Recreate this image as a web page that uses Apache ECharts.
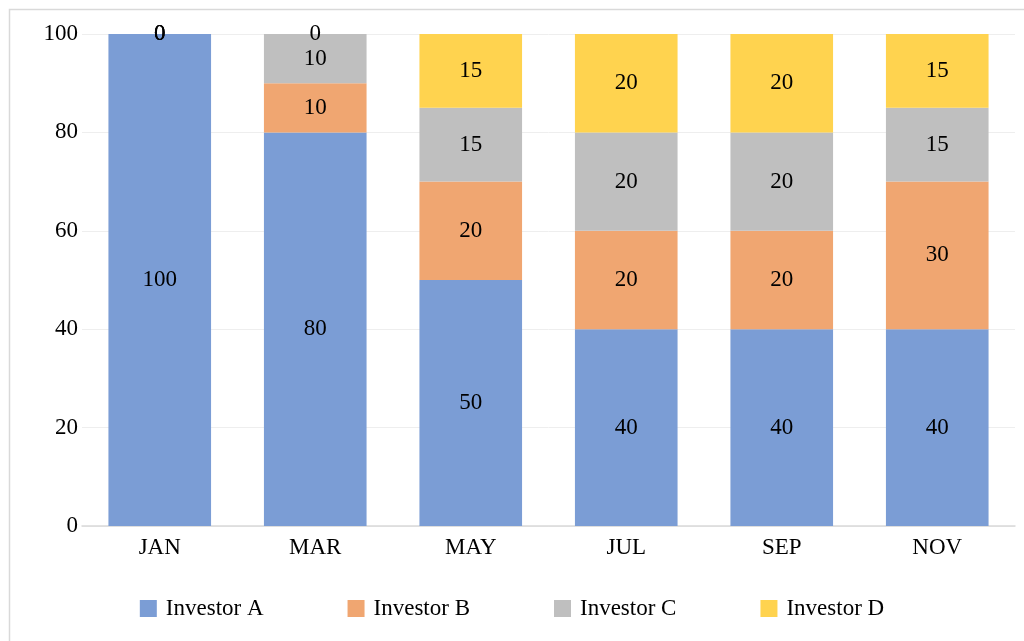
<!DOCTYPE html>
<html><head><meta charset="utf-8">
<script src="https://cdn.jsdelivr.net/npm/echarts@6/dist/echarts.min.js"></script>
<style>html,body{margin:0;padding:0;background:#fff}#c{width:1024px;height:641px}</style>
</head><body><div id="c"></div>
<script>
const categories = ['JAN','MAR','MAY','JUL','SEP','NOV'];
const investorA = [100, 80, 50, 40, 40, 40];
const investorB = [0, 10, 20, 20, 20, 30];
const investorC = [0, 10, 15, 20, 20, 15];
const investorD = [0, 0, 15, 20, 20, 15];
const seriesNames = ['Investor A','Investor B','Investor C','Investor D'];
const colors = ['#7b9dd5','#f0a671','#bfbfbf','#ffd34f'];
const font = '"Liberation Serif","Times New Roman",serif';

const chart = echarts.init(document.getElementById('c'), null, {renderer:'canvas'});
const mk = (name, data, color) => ({
  name, type:'bar', stack:'total', data, barWidth:'66%',
  itemStyle:{color},
  label:{show:true, position:'inside', color:'#000', fontFamily:font, fontSize:23},
  emphasis:{disabled:true}
});
chart.setOption({
  animation:false,
  textStyle:{fontFamily:font},
  graphic:[{type:'rect', left:7, top:7, shape:{width:1040, height:660}, style:{fill:'none', stroke:'#d9d9d9', lineWidth:1.5}, silent:true}],
  grid:{left:82, right:9, top:34, bottom:115},
  legend:{bottom:16, left:'center', itemWidth:17, itemHeight:17, itemGap:84, icon:'rect',
    textStyle:{fontFamily:font, fontSize:23, color:'#000', padding:[0,0,0,4]}, data:seriesNames},
  xAxis:{type:'category', data:categories,
    axisLine:{lineStyle:{color:'#d9d9d9', width:1.5}}, axisTick:{show:false},
    axisLabel:{fontFamily:font, fontSize:23, color:'#000', margin:10}},
  yAxis:{type:'value', min:0, max:100, interval:20,
    axisLine:{show:false}, axisTick:{show:false},
    splitLine:{lineStyle:{color:'#eeeeee', width:1}},
    axisLabel:{fontFamily:font, fontSize:23, color:'#000', margin:4}},
  series:[mk(seriesNames[0], investorA, colors[0]), mk(seriesNames[1], investorB, colors[1]),
          mk(seriesNames[2], investorC, colors[2]), mk(seriesNames[3], investorD, colors[3])]
});
</script></body></html>
